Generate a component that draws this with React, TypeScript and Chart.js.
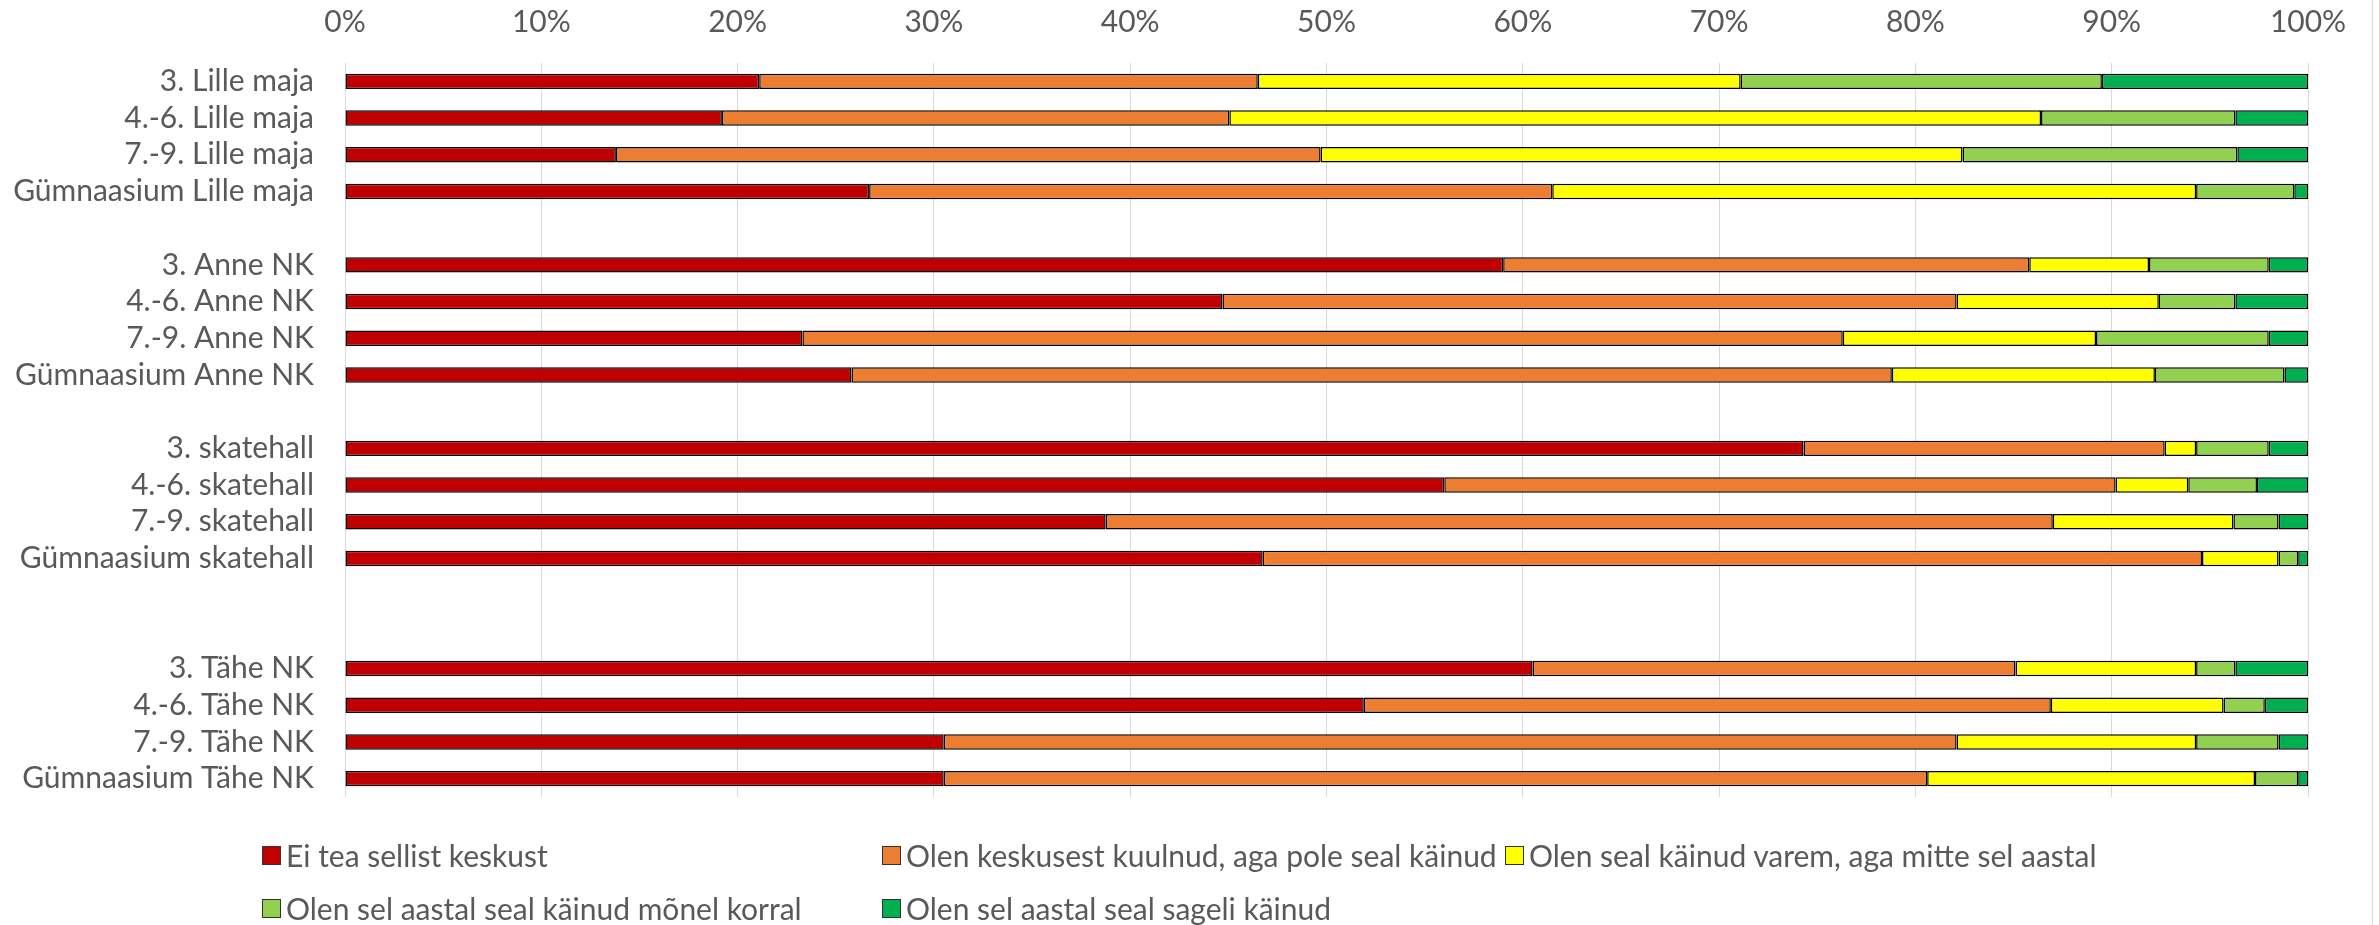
import React, { useEffect, useRef } from "react";
import { Chart, registerables } from "chart.js";

Chart.register(...registerables);

const categories = [
  "3. Lille maja", "4.-6. Lille maja", "7.-9. Lille maja", "Gümnaasium Lille maja",
  "",
  "3. Anne NK", "4.-6. Anne NK", "7.-9. Anne NK", "Gümnaasium Anne NK",
  "",
  "3. skatehall", "4.-6. skatehall", "7.-9. skatehall", "Gümnaasium skatehall",
  "", "",
  "3. Tähe NK", "4.-6. Tähe NK", "7.-9. Tähe NK", "Gümnaasium Tähe NK",
];

const seriesNames = [
  "Ei tea sellist keskust",
  "Olen keskusest kuulnud, aga pole seal käinud",
  "Olen seal käinud varem, aga mitte sel aastal",
  "Olen sel aastal seal käinud mõnel korral",
  "Olen sel aastal seal sageli käinud",
];

const seriesColors = ["#C00000", "#ED7D31", "#FFFF00", "#92D050", "#00B050"];

const eiTea = [21.1, 19.2, 13.8, 26.7, null, 59.0, 44.7, 23.3, 25.8, null, 74.3, 56.0, 38.75, 46.75, null, null, 60.5, 51.9, 30.5, 30.5];
const kuulnud = [25.4, 25.85, 35.9, 34.8, null, 26.8, 37.4, 53.0, 53.0, null, 18.4, 34.2, 48.25, 47.85, null, null, 24.6, 35.0, 51.6, 50.1];
const varem = [24.6, 41.35, 32.7, 32.8, null, 6.1, 10.3, 12.9, 13.4, null, 1.6, 3.7, 9.2, 3.9, null, null, 9.2, 8.8, 12.2, 16.7];
const monel = [18.4, 9.9, 14.0, 5.0, null, 6.1, 3.9, 8.8, 6.6, null, 3.7, 3.5, 2.3, 1.0, null, null, 2.0, 2.1, 4.2, 2.2];
const sageli = [10.5, 3.7, 3.6, 0.7, null, 2.0, 3.7, 2.0, 1.2, null, 2.0, 2.6, 1.5, 0.5, null, null, 3.7, 2.2, 1.5, 0.5];

const seriesValues = [eiTea, kuulnud, varem, monel, sageli];

const W = 2379;
const H = 925;
const FONT = "Lato";
const TEXT = "#595959";

export default function App() {
  const ref = useRef<HTMLCanvasElement | null>(null);

  useEffect(() => {
    const canvas = ref.current;
    if (!canvas) return;
    const chart = new Chart(canvas, {
      type: "bar",
      data: {
        labels: categories,
        datasets: seriesNames.map((name, i) => ({
          label: name,
          data: seriesValues[i],
          backgroundColor: seriesColors[i],
          borderColor: "#000000",
          borderWidth: 1.5,
          borderSkipped: false,
          categoryPercentage: 1,
          barPercentage: 0.42,
        })),
      },
      options: {
        indexAxis: "y",
        responsive: false,
        animation: false,
        maintainAspectRatio: false,
        layout: { padding: { left: 0, right: 71, top: 0, bottom: 128 } },
        plugins: {
          legend: { display: false },
          tooltip: { enabled: false },
        },
        scales: {
          x: {
            position: "top",
            stacked: true,
            min: 0,
            max: 100,
            ticks: {
              stepSize: 10,
              callback: (v: any) => v + "%",
              color: TEXT,
              font: { family: FONT, size: 30 },
              padding: 23,
            },
            grid: { color: "#d9d9d9", drawTicks: false, lineWidth: 1 },
            border: { display: false },
            afterFit: (s: any) => {
              s.height = 63;
            },
          },
          y: {
            stacked: true,
            ticks: {
              color: TEXT,
              font: { family: FONT, size: 30 },
              padding: 31,
              autoSkip: false,
            },
            grid: { display: false, drawTicks: false },
            border: { display: false },
            afterFit: (s: any) => {
              s.width = 345;
            },
          },
        },
      },
    });
    return () => chart.destroy();
  }, []);

  const legendCols = [262, 882, 1505];
  const legendRows = [855, 908];
  const positions = [
    [legendCols[0], legendRows[0]],
    [legendCols[1], legendRows[0]],
    [legendCols[2], legendRows[0]],
    [legendCols[0], legendRows[1]],
    [legendCols[1], legendRows[1]],
  ];

  return (
    <div style={{ position: "absolute", left: 0, top: 0, width: W, height: H, background: "#fff", overflow: "hidden" }}>
      <canvas ref={ref} width={W} height={H} style={{ width: W, height: H, display: "block" }} />
      {seriesNames.map((name, i) => (
        <div
          key={name}
          style={{
            position: "absolute",
            left: positions[i][0],
            top: positions[i][1] - 20,
            height: 40,
            display: "flex",
            alignItems: "center",
            fontFamily: FONT,
            fontSize: 30,
            color: TEXT,
            whiteSpace: "nowrap",
          }}
        >
          <span
            style={{
              display: "inline-block",
              width: 17,
              height: 17,
              background: seriesColors[i],
              border: "1px solid #333",
              marginRight: 5,
            }}
          />
          {name}
        </div>
      ))}
      <div style={{ position: "absolute", left: 2372, top: 0, width: 1, height: H, background: "#d9d9d9" }} />
    </div>
  );
}
